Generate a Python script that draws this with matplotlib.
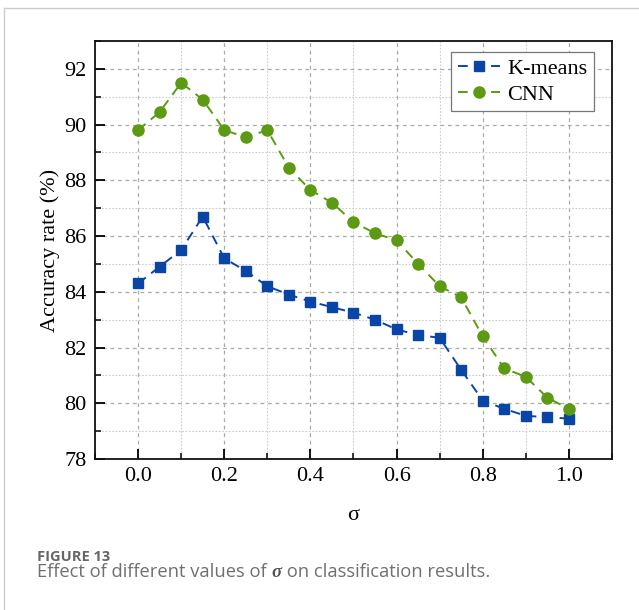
import matplotlib
matplotlib.use("Agg")
import matplotlib.pyplot as plt
from matplotlib.ticker import MultipleLocator
from matplotlib.lines import Line2D

sigma = [0.0, 0.05, 0.1, 0.15, 0.2, 0.25, 0.3, 0.35, 0.4, 0.45, 0.5,
         0.55, 0.6, 0.65, 0.7, 0.75, 0.8, 0.85, 0.9, 0.95, 1.0]
kmeans = [84.3, 84.9, 85.5, 86.7, 85.2, 84.75, 84.2, 83.9, 83.65, 83.45, 83.25,
          83.0, 82.65, 82.45, 82.35, 81.2, 80.1, 79.8, 79.55, 79.5, 79.45]
cnn = [89.8, 90.45, 91.5, 90.9, 89.8, 89.55, 89.8, 88.45, 87.65, 87.2, 86.5,
       86.1, 85.85, 85.0, 84.2, 83.8, 82.4, 81.25, 80.95, 80.2, 79.8]
xticks = [0.0, 0.2, 0.4, 0.6, 0.8, 1.0]
yticks = [78, 80, 82, 84, 86, 88, 90, 92]

serif = ["Liberation Serif", "DejaVu Serif"]
sans = ["Open Sans", "DejaVu Sans"]

fig = plt.figure(figsize=(6.39, 6.10), dpi=100)
ax = fig.add_axes([0.1487, 0.2475, 0.8090, 0.6853])

blue = "#0a45a6"
green = "#5b9a12"
ax.plot(sigma, kmeans, linestyle=(0, (5, 3.5)), color=blue, lw=1.4,
        marker="s", ms=7.5, mfc=blue, mec=blue, label="K-means", zorder=3)
ax.plot(sigma, cnn, linestyle=(0, (5, 3.5)), color=green, lw=1.4,
        marker="o", ms=8, mfc=green, mec=green, label="CNN", zorder=3)

ax.set_xlim(-0.1, 1.1)
ax.set_ylim(78, 93)
ax.set_xticks(xticks)
ax.set_xticklabels([f"{t:.1f}" for t in xticks])
ax.set_yticks(yticks)
ax.xaxis.set_minor_locator(MultipleLocator(0.1))
ax.yaxis.set_minor_locator(MultipleLocator(1))

ax.grid(True, which="major", color="#aaaaaa", linestyle=(0, (3, 3)), lw=0.9)
ax.grid(True, which="minor", color="#cccccc", linestyle=(0, (1.5, 1.5)), lw=0.8)
ax.set_axisbelow(True)

ax.tick_params(which="major", direction="in", length=7, width=1.3,
               top=False, right=False, labelsize=16, pad=6)
ax.tick_params(which="minor", direction="in", length=4, width=1.1,
               top=False, right=False)
for lab in ax.get_xticklabels() + ax.get_yticklabels():
    lab.set_fontfamily(serif)
for sp in ax.spines.values():
    sp.set_linewidth(1.3)
    sp.set_color("#111111")

ax.set_ylabel("Accuracy rate (%)", fontsize=16, family=serif, labelpad=3)
ax.set_xlabel("σ", fontsize=16, family=serif, labelpad=14)

leg = ax.legend(loc="upper right", bbox_to_anchor=(0.965, 0.974),
                prop={"family": serif, "size": 16}, frameon=True, fancybox=False,
                edgecolor="#777777", framealpha=1, borderpad=0.28,
                handlelength=1.9, handletextpad=0.35, labelspacing=0.27,
                borderaxespad=0.0)
leg.get_frame().set_linewidth(0.9)

# figure border (light gray)
fig.add_artist(Line2D([4/639, 4/639], [0, 1 - 8/610], transform=fig.transFigure,
                      color="#cccccc", lw=1.0))
fig.add_artist(Line2D([4/639, 1], [1 - 8/610, 1 - 8/610], transform=fig.transFigure,
                      color="#cccccc", lw=1.0))

fig.text(37/639, 1 - 561/610, "FIGURE 13", fontsize=10.5, color="#666666",
         family=sans, fontweight="bold", va="baseline")

# caption assembled from pieces (bold italic serif sigma)
cap_y = 1 - 577/610
cap_color = "#707070"
renderer = fig.canvas.get_renderer()
t1 = fig.text(37/639, cap_y, "Effect of different values of ", fontsize=13.2,
              color=cap_color, family=sans, va="baseline")
x = t1.get_window_extent(renderer).x1 / fig.bbox.width
t2 = fig.text(x, cap_y, "σ", fontsize=13.5, color="#555555", family=serif,
              fontweight="bold", fontstyle="italic", va="baseline")
x = t2.get_window_extent(renderer).x1 / fig.bbox.width
fig.text(x, cap_y, " on classification results.", fontsize=13.2,
         color=cap_color, family=sans, va="baseline")

fig.savefig("out.png", dpi=100)
